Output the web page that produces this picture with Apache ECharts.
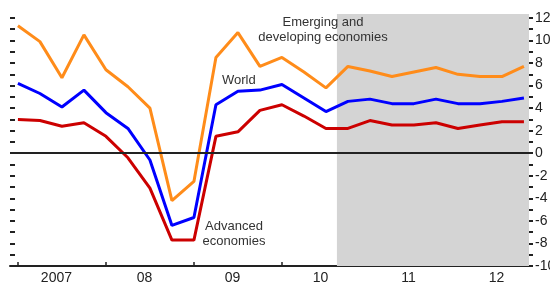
<!DOCTYPE html>
<html>
<head>
<meta charset="utf-8">
<title>Growth by economy group</title>
<script src="https://cdn.jsdelivr.net/npm/echarts@6/dist/echarts.min.js"></script>
<style>
  html, body { margin: 0; padding: 0; background: #fff; }
  #chart { width: 550px; height: 284px; }
</style>
</head>
<body>
<div id="chart"></div>
<script>
// quarterly, 2007 Q1 .. 2012 Q4 (index 0..23)
const quarters = ['07Q1','07Q2','07Q3','07Q4','08Q1','08Q2','08Q3','08Q4',
  '09Q1','09Q2','09Q3','09Q4','10Q1','10Q2','10Q3','10Q4',
  '11Q1','11Q2','11Q3','11Q4','12Q1','12Q2','12Q3','12Q4']
const emerging = [11.3, 9.9, 6.7, 10.5, 7.4, 5.9, 4.0, -4.2, -2.5, 8.5, 10.7, 7.7,
  8.5, 7.2, 5.8, 7.7, 7.3, 6.8, 7.2, 7.6, 7.0, 6.8, 6.8, 7.7]
const world = [6.2, 5.3, 4.1, 5.6, 3.6, 2.2, -0.6, -6.4, -5.7, 4.3, 5.5, 5.6,
  6.1, 4.9, 3.7, 4.6, 4.8, 4.4, 4.4, 4.8, 4.4, 4.4, 4.6, 4.9]
const advanced = [3.0, 2.9, 2.4, 2.7, 1.5, -0.4, -3.1, -7.7, -7.7, 1.5, 1.9, 3.8,
  4.3, 3.3, 2.2, 2.2, 2.9, 2.5, 2.5, 2.7, 2.2, 2.5, 2.8, 2.8]
const yearLabels = ['2007', '08', '09', '10', '11', '12']
const yTicks = [-10, -9, -8, -7, -6, -5, -4, -3, -2, -1, 0, 1, 2, 3, 4, 5, 6, 7, 8, 9, 10, 11, 12]
const yLabels = [-10, -8, -6, -4, -2, 0, 2, 4, 6, 8, 10, 12]
// projection period shading starts between 2010 Q3 and Q4
const shadeStart = 14.5

const toPairs = arr => arr.map((v, i) => [i, v])
const yearStarts = yearLabels.map((_, i) => i * 4)
const yearMids = yearLabels.map((_, i) => i * 4 + 1.75)

const font = 'Liberation Sans, Arial, sans-serif'
const chart = echarts.init(document.getElementById('chart'))

const options = {
  animation: false,
  grid: { left: 10, right: 21, top: 14, bottom: 18, outerBoundsMode: 'none' },
  xAxis: {
    type: 'value',
    min: -0.36,
    max: 23.23,
    axisLine: { onZero: false, lineStyle: { color: '#222', width: 2 } },
    axisTick: { inside: true, length: 4, customValues: yearStarts, lineStyle: { color: '#222', width: 1.5 } },
    axisLabel: {
      customValues: yearMids,
      formatter: v => yearLabels[Math.floor(v / 4)],
      color: '#222', fontSize: 14, fontFamily: font, margin: 5
    },
    splitLine: { show: false }
  },
  yAxis: [
    {
      type: 'value', position: 'left', min: -10, max: 12.35,
      axisLine: { show: false, onZero: false },
      axisTick: { inside: true, length: 5, customValues: yTicks, lineStyle: { color: '#222', width: 2 } },
      axisLabel: { show: false },
      splitLine: { show: false }
    },
    {
      type: 'value', position: 'right', min: -10, max: 12.35,
      axisLine: { show: false, onZero: false },
      axisTick: { length: 4, customValues: yTicks, lineStyle: { color: '#222', width: 2 } },
      axisLabel: { customValues: yLabels, color: '#222', fontSize: 14, fontFamily: font, margin: 6 },
      splitLine: { show: false }
    }
  ],
  series: [
    {
      name: 'Advanced economies',
      type: 'line',
      data: toPairs(advanced),
      symbol: 'none',
      lineStyle: { color: '#cc0000', width: 3 },
      markArea: {
        silent: true,
        itemStyle: { color: '#d4d4d4' },
        data: [[{ xAxis: shadeStart, yAxis: -10 }, { xAxis: 23.23, yAxis: 12.35 }]]
      },
      markLine: {
        silent: true,
        symbol: 'none',
        label: { show: false },
        lineStyle: { color: '#222', width: 2, type: 'solid' },
        data: [{ yAxis: 0 }]
      }
    },
    {
      name: 'World',
      type: 'line',
      data: toPairs(world),
      symbol: 'none',
      lineStyle: { color: '#0000ff', width: 3 }
    },
    {
      name: 'Emerging and developing economies',
      type: 'line',
      data: toPairs(emerging),
      symbol: 'none',
      lineStyle: { color: '#ff8c1a', width: 3 }
    }
  ],
  graphic: [
    {
      type: 'text', x: 323, y: 15, z: 10,
      style: { text: 'Emerging and\ndeveloping economies', fill: '#333', font: '13px ' + font, align: 'center', verticalAlign: 'top', lineHeight: 15 }
    },
    {
      type: 'text', x: 222, y: 73, z: 10,
      style: { text: 'World', fill: '#333', font: '13px ' + font, align: 'left', verticalAlign: 'top', lineHeight: 15 }
    },
    {
      type: 'text', x: 234, y: 219, z: 10,
      style: { text: 'Advanced\neconomies', fill: '#333', font: '13px ' + font, align: 'center', verticalAlign: 'top', lineHeight: 15 }
    }
  ]
}

chart.setOption(options)
</script>
</body>
</html>
